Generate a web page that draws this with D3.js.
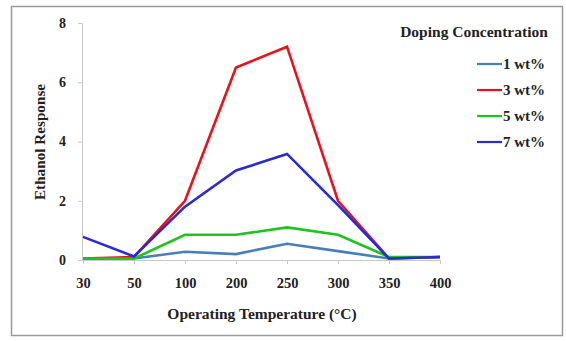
<!DOCTYPE html>
<html>
<head>
<meta charset="utf-8">
<script src="https://cdn.jsdelivr.net/npm/d3@7"></script>
<style>
  body { margin: 0; background: #fff; }
  svg text { font-family: "Liberation Serif", "Times New Roman", serif; font-weight: bold; fill: #222; }
</style>
</head>
<body>
<svg id="chart" width="566" height="341"></svg>
<script>
// Categories (operating temperature, °C)
const temperatures = ['30', '50', '100', '200', '250', '300', '350', '400'];

// Ethanol response per doping concentration
const wt1 = [0.05, 0.05, 0.28, 0.2, 0.55, 0.3, 0.05, 0.1];
const wt3 = [0.05, 0.1, 2.0, 6.5, 7.2, 2.0, 0.05, 0.1];
const wt5 = [0.05, 0.05, 0.85, 0.85, 1.1, 0.85, 0.1, 0.1];
const wt7 = [0.78, 0.12, 1.8, 3.02, 3.58, 1.85, 0.05, 0.1];

const seriesNames = ['1 wt%', '3 wt%', '5 wt%', '7 wt%'];
const seriesColors = ['#4a7ebb', '#e8121c', '#1ec41e', '#2a2ad4'];
const yTicks = [0, 2, 4, 6, 8];

const series = [wt1, wt3, wt5, wt7].map((values, i) => ({
    name: seriesNames[i],
    color: seriesColors[i],
    values: values
}));

const svg = d3.select('#chart');

// outer frame
svg.append('rect')
    .attr('x', 11.5).attr('y', 6.5)
    .attr('width', 551).attr('height', 329)
    .attr('fill', 'none')
    .attr('stroke', '#9a9a9a')
    .attr('stroke-width', 1.5);

const x = d3.scalePoint()
    .domain(temperatures)
    .range([83, 440]);

const y = d3.scaleLinear()
    .domain([0, 8])
    .range([260, 23]);

// y axis
const yAxis = svg.append('g')
    .attr('transform', 'translate(82,0)')
    .call(d3.axisLeft(y).tickValues(yTicks).tickSize(4).tickPadding(12));
yAxis.select('.domain').attr('stroke', '#c8c8c8');
yAxis.selectAll('.tick line').attr('stroke', '#c8c8c8');
yAxis.selectAll('text').attr('font-size', 14);

// x axis
const xAxis = svg.append('g')
    .attr('transform', 'translate(0,260)')
    .call(d3.axisBottom(x).tickSize(4).tickPadding(14).tickSizeOuter(0));
xAxis.select('.domain').attr('stroke', '#c8c8c8');
xAxis.selectAll('.tick line').attr('stroke', '#c8c8c8');
xAxis.selectAll('text').attr('font-size', 14.5);

// axis titles
svg.append('text')
    .attr('x', 262).attr('y', 319)
    .attr('text-anchor', 'middle')
    .attr('font-size', 15.5)
    .text('Operating Temperature (°C)');

svg.append('text')
    .attr('transform', 'translate(45,142) rotate(-90)')
    .attr('text-anchor', 'middle')
    .attr('font-size', 15.2)
    .text('Ethanol Response');

// lines
const line = d3.line()
    .x((d, i) => x(temperatures[i]))
    .y(d => y(d));

svg.append('g')
    .selectAll('path')
    .data(series)
    .join('path')
    .attr('d', d => line(d.values))
    .attr('fill', 'none')
    .attr('stroke', d => d.color)
    .attr('stroke-width', 2.6)
    .attr('stroke-linejoin', 'miter');

// legend
svg.append('text')
    .attr('x', 474).attr('y', 37)
    .attr('text-anchor', 'middle')
    .attr('font-size', 15.5)
    .text('Doping Concentration');

const legend = svg.append('g')
    .selectAll('g')
    .data(series)
    .join('g')
    .attr('transform', (d, i) => `translate(477,${64 + i * 26})`);

legend.append('line')
    .attr('x1', 0).attr('x2', 25)
    .attr('stroke', d => d.color)
    .attr('stroke-width', 2.2);

legend.append('text')
    .attr('x', 26).attr('y', 5)
    .attr('font-size', 15)
    .text(d => d.name);
</script>
</body>
</html>
